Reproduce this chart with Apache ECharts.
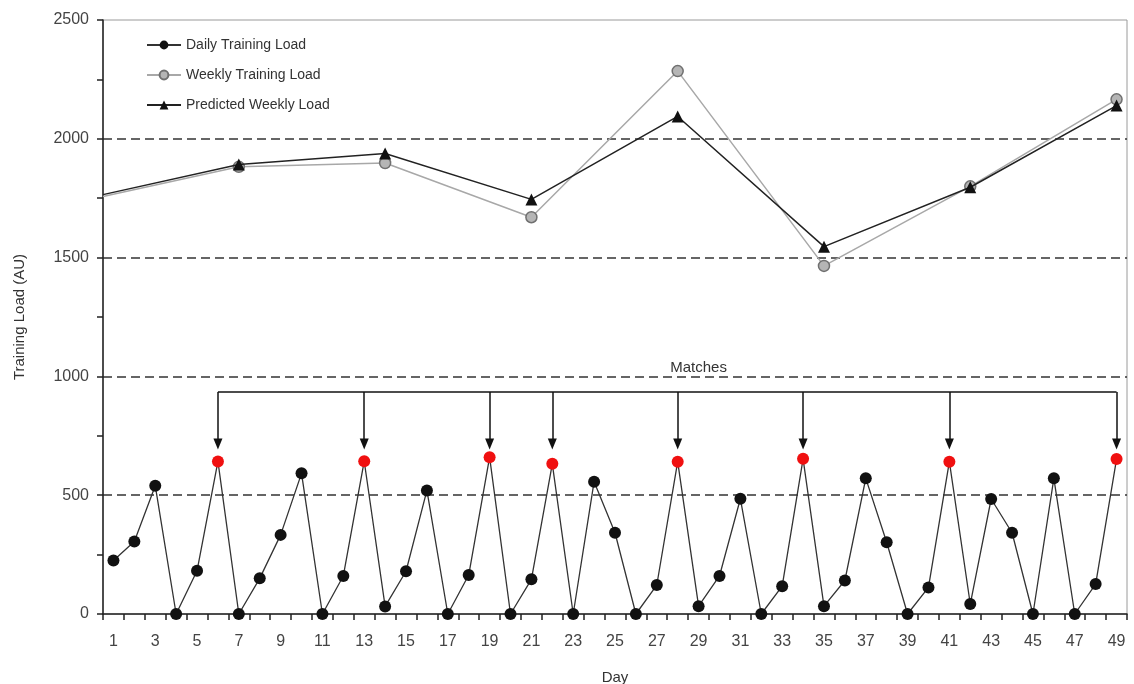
<!DOCTYPE html>
<html>
<head>
<meta charset="utf-8">
<script src="https://cdn.jsdelivr.net/npm/echarts@6/dist/echarts.min.js"></script>
<style>html,body{margin:0;padding:0;background:#fff;}#c{width:1134px;height:684px;}</style>
</head>
<body>
<div id="c"></div>
<script>
// ---- data ----
const days = Array.from({length: 49}, (_, i) => String(i + 1));
const dailyLoad = [225, 305, 540, 0, 182, 642, 0, 150, 333, 592, 0, 160, 643, 32, 180, 520, 0, 164, 660, 0, 146, 632, 0, 557, 342, 0, 122, 641, 33, 160, 485, 0, 117, 653, 33, 141, 571, 302, 0, 112, 641, 42, 484, 342, 0, 571, 0, 126, 652];
const matchDays = ['6', '13', '19', '22', '28', '34', '41', '49'];
const weekDays = [0.5, 7, 14, 21, 28, 35, 42, 49];
const weeklyLoad = [1757, 1882, 1898, 1670, 2285, 1465, 1800, 2166];
const predictedLoad = [1765, 1892, 1938, 1745, 2094, 1546, 1796, 2140];
const bracketLevel = 934;
const arrowTip = 716;
const yTicks = [0, 500, 1000, 1500, 2000, 2500];

function weekSeries(vals) {
  return weekDays.map((d, i) => i === 0 ? {value: [d, vals[i]], symbol: 'none'} : {value: [d, vals[i]]});
}

const dailyData = dailyLoad.map((v, i) =>
  matchDays.indexOf(days[i]) >= 0 ? {value: v, itemStyle: {color: '#f01010'}} : v);

const markData = [[{coord: [matchDays[0], bracketLevel], symbol: 'none'},
                   {coord: [matchDays[matchDays.length - 1], bracketLevel], symbol: 'none'}]];
matchDays.forEach(d => markData.push([
  {coord: [d, bracketLevel], symbol: 'none'},
  {coord: [d, arrowTip], symbol: 'triangle', symbolSize: [9, 11], symbolRotate: 180}
]));

const chart = echarts.init(document.getElementById('c'), null, {renderer: 'canvas'});
const font = 'Arial, "Liberation Sans", sans-serif';
chart.setOption({
  animation: false,
  textStyle: {fontFamily: font},
  grid: {left: 103, right: 7, top: 20, bottom: 70, show: true, borderColor: '#9a9a9a', borderWidth: 1,
         containLabel: false, outerBoundsMode: 'none'},
  legend: {
    orient: 'vertical', left: 141, top: 33, itemGap: 16, itemWidth: 34, itemHeight: 11,
    textStyle: {fontSize: 14, color: '#333', fontFamily: font},
    data: ['Daily Training Load', 'Weekly Training Load', 'Predicted Weekly Load']
  },
  xAxis: [{
    type: 'category', data: days, boundaryGap: true,
    name: 'Day', nameLocation: 'middle', nameGap: 56,
    nameTextStyle: {fontSize: 15, color: '#333'},
    axisLine: {lineStyle: {color: '#222', width: 1.5}},
    axisTick: {show: true, interval: 0, length: 6, lineStyle: {color: '#222', width: 1.5}},
    axisLabel: {interval: 1, fontSize: 16, color: '#444', margin: 20},
    splitLine: {show: false}
  }, {
    type: 'value', min: 0.5, max: 49.5, show: false
  }],
  yAxis: {
    type: 'value', min: yTicks[0], max: yTicks[yTicks.length - 1], interval: 500,
    name: 'Training Load (AU)', nameLocation: 'middle', nameGap: 76, nameRotate: 90,
    nameTextStyle: {fontSize: 15, color: '#333'},
    axisLine: {show: true, lineStyle: {color: '#222', width: 1.5}},
    axisTick: {show: true, length: 6, lineStyle: {color: '#222', width: 1.5}},
    minorTick: {show: true, splitNumber: 2, length: 6, lineStyle: {color: '#222', width: 1.5}},
    axisLabel: {fontSize: 16, color: '#444', margin: 14, formatter: v => String(v)},
    splitLine: {show: true, lineStyle: {color: ['rgba(0,0,0,0)', '#333', '#333', '#333', '#333', 'rgba(0,0,0,0)'], type: [9, 5], width: 1.5}}
  },
  series: [{
    name: 'Daily Training Load', type: 'line', data: dailyData,
    symbol: 'circle', symbolSize: 12, z: 5,
    itemStyle: {color: '#111'},
    lineStyle: {color: '#333', width: 1.3},
    markLine: {
      silent: true, symbol: 'none', animation: false,
      lineStyle: {color: '#111', width: 1.5, type: 'solid'},
      label: {show: false},
      data: markData
    }
  }, {
    name: 'Weekly Training Load', type: 'line', xAxisIndex: 1, data: weekSeries(weeklyLoad),
    symbol: 'circle', symbolSize: 11, z: 3,
    itemStyle: {color: '#b5b5b5', borderColor: '#707070', borderWidth: 1.5},
    lineStyle: {color: '#a8a8a8', width: 1.5}
  }, {
    name: 'Predicted Weekly Load', type: 'line', xAxisIndex: 1, data: weekSeries(predictedLoad),
    symbol: 'triangle', symbolSize: 12, z: 4,
    itemStyle: {color: '#111'},
    lineStyle: {color: '#222', width: 1.5}
  }, {
    name: 'matchesLabel', type: 'line', data: [],
    markPoint: {
      silent: true, symbol: 'circle', symbolSize: 0,
      label: {show: true, formatter: 'Matches', fontSize: 15, color: '#333', position: 'inside'},
      data: [{coord: [27.5, 1035]}]
    }
  }]
});
</script>
</body>
</html>
